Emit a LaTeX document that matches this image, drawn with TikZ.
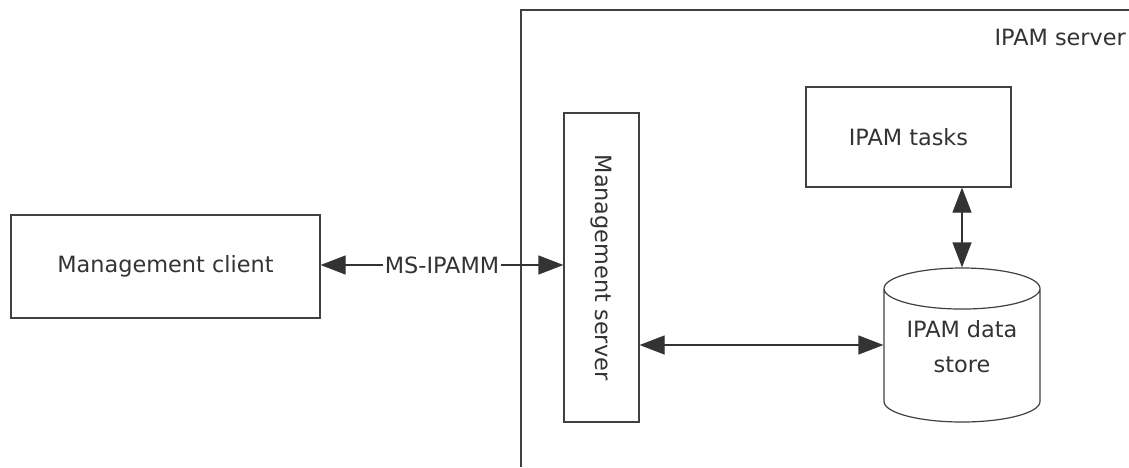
\documentclass[tikz,border=0pt]{standalone}
\usepackage{fontspec}
\setmainfont{DejaVu Sans}
\usetikzlibrary{arrows.meta,shapes.geometric}

\begin{document}
\begin{tikzpicture}[
        x=0.5pt,
        y=-0.5pt,
        every node/.style={font=\fontsize{11.2}{14}\selectfont, text=black!80},
        box/.style={
            draw=black!75,
            line width=0.6pt,
            inner sep=0pt
        },
        link/.style={
            draw=black!80,
            line width=0.6pt,
            {Triangle[length=12.5pt,width=9.5pt]}-{Triangle[length=12.5pt,width=9.5pt]}
        }
    ]
        \useasboundingbox (0,0) rectangle (1129,467);

        % Server frame, open to the right and to the bottom
        \draw[draw=black!75, line width=0.6pt]
            (1129,10) -- (521,10) -- (521,467);
        \node[anchor=east] (srvlabel) at (1133,37) {IPAM server};

        % Boxes
        \node[box, minimum width=154.5pt, minimum height=51.5pt]
            (client) at (165.5,266.5) {Management client};
        \node[box, minimum width=37.5pt, minimum height=154.5pt]
            (mgmt) at (601.5,267.5) {};
        \node[rotate=-90] (mgmttext) at (mgmt) {Management server};
        \node[box, minimum width=102.5pt, minimum height=50pt]
            (tasks) at (908.5,137) {IPAM tasks};
        % text lifted a little inside the cylinder body
        \node[box, cylinder, shape border rotate=90, aspect=0.37,
            minimum width=78pt, minimum height=77pt, anchor=shape center,
            font=\fontsize{11.2}{17.5}\selectfont]
            (store) at (962,345)
            {\raisebox{4pt}[\height][\depth]{%
                \begin{tabular}{@{}c@{}}IPAM data\\store\end{tabular}}};

        % Connectors
        \draw[link] (client.east |- 0,265) -- (mgmt.west |- 0,265)
            node[midway, fill=white, inner sep=1pt] (proto) {MS-IPAMM};
        \draw[link] (mgmt.east |- 0,345) -- (store.west |- 0,345);
        \draw[link] (tasks.south -| store.north) -- (store.north);
\end{tikzpicture}
\end{document}
